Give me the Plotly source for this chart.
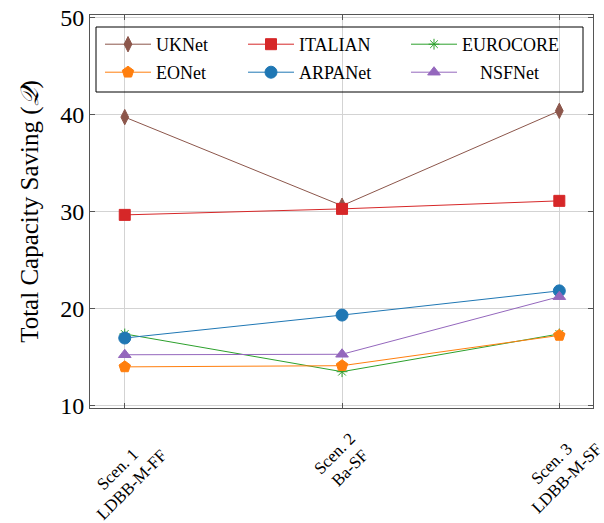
import plotly.graph_objects as go

scen_line1 = ["Scen. 1", "Scen. 2", "Scen. 3"]
scen_line2 = ["LDBB-M-FF", "Ba-SF", "LDBB-M-SF"]
x_pos = [0, 1, 2]

ukn = [39.75, 30.6, 40.4]
italian = [29.65, 30.27, 31.1]
eurocore = [17.35, 13.45, 17.35]
eonet = [13.95, 14.07, 17.2]
arpanet = [16.93, 19.3, 21.8]
nsfnet = [15.2, 15.25, 21.2]

NB = "\u00a0"
series = [
    # name, label, values, colour, symbol, size, legend
    ("UKNet", "UKNet", ukn, "#8c564b", "diamond-tall", 11, "legend"),
    ("EONet", "EONet", eonet, "#ff7f0e", "pentagon", 12, "legend"),
    ("ITALIAN", "ITALIAN", italian, "#d62728", "square", 11, "legend2"),
    ("ARPANet", "ARPANet", arpanet, "#1f77b4", "circle", 12, "legend2"),
    ("EUROCORE", "EUROCORE", eurocore, "#2ca02c", "asterisk-open", 9, "legend3"),
    ("NSFNet", NB * 4 + "NSFNet", nsfnet, "#9467bd", "triangle-up", 11, "legend3"),
]

draw_order = ["UKNet", "ITALIAN", "EUROCORE", "EONet", "ARPANet", "NSFNet"]
lookup = {s[0]: s for s in series}

fig = go.Figure()
for key in draw_order:
    name, label, vals, color, sym, size, leg = lookup[key]
    fig.add_trace(go.Scatter(
        x=x_pos, y=vals, name=label, mode="lines+markers",
        line=dict(color=color, width=1),
        marker=dict(symbol=sym, size=size, color=color,
                    line=dict(color=color, width=1)),
        legend=leg, legendgroup=name,
    ))

font_family = "Liberation Serif, Times New Roman, serif"

# plot area in page pixels: x 90..593, y 15..408
def px_x(X):
    return (X - 90) / 503.0

def px_y(Y):
    return (408 - Y) / 393.0

leg_common = dict(
    orientation="v", xanchor="left", yanchor="top",
    borderwidth=0, bgcolor="rgba(0,0,0,0)",
    font=dict(family=font_family, size=18, color="black"),
    itemwidth=46, traceorder="grouped", tracegroupgap=1.6,
)

fig.update_layout(
    width=604, height=523,
    margin=dict(l=90, r=11, t=15, b=115, autoexpand=False),
    paper_bgcolor="white", plot_bgcolor="white",
    font=dict(family=font_family, size=18, color="black"),
    showlegend=True,
    legend=dict(x=px_x(100), y=px_y(26), **leg_common),
    legend2=dict(x=px_x(243), y=px_y(26), **leg_common),
    legend3=dict(x=px_x(406), y=px_y(26), **leg_common),
    shapes=[dict(type="rect", xref="paper", yref="paper",
                 x0=px_x(96), x1=px_x(583), y0=px_y(92), y1=px_y(27),
                 line=dict(color="black", width=1), fillcolor="rgba(0,0,0,0)",
                 layer="above")],
    xaxis=dict(
        tickmode="array", tickvals=x_pos, showticklabels=False,
        range=[-0.16, 2.155],
        showgrid=True, gridcolor="#d3d3d3", gridwidth=1,
        showline=True, linecolor="#555555", linewidth=1, mirror="ticks",
        ticks="inside", ticklen=5, tickcolor="#555555",
        zeroline=False, automargin=False,
    ),
    yaxis=dict(
        range=[9.7, 50.3], tickvals=[10, 20, 30, 40, 50],
        showgrid=True, gridcolor="#d3d3d3", gridwidth=1,
        showline=True, linecolor="#555555", linewidth=1, mirror="ticks",
        ticks="inside", ticklen=5, tickcolor="#555555",
        tickfont=dict(family=font_family, size=24),
        ticklabeloverflow="allow",
        title=dict(text="Total Capacity Saving (<i>𝒬</i>)",
                   font=dict(family=font_family, size=25), standoff=14),
        zeroline=False, automargin=False,
    ),
)

# rotated two-line tick labels: block centre drop below the axis (px),
# lines separated perpendicular to the text direction
block_drop = [69, 53, 63]
line_gap = 20.0
d = line_gap / 2 * 0.7071
for xv, l1, l2, drop in zip(x_pos, scen_line1, scen_line2, block_drop):
    for k, txt in ((-1, l1), (1, l2)):
        fig.add_annotation(
            x=xv, y=0, xref="x", yref="paper", text=txt, showarrow=False,
            textangle=-45, xanchor="center", yanchor="middle",
            xshift=k * d, yshift=-drop - k * d,
            font=dict(family=font_family, size=17, color="black"),
        )

fig.write_html(
    "out.html",
    config={"displayModeBar": False},
    post_script="document.body.style.margin='0';document.body.style.overflow='hidden';",
)
